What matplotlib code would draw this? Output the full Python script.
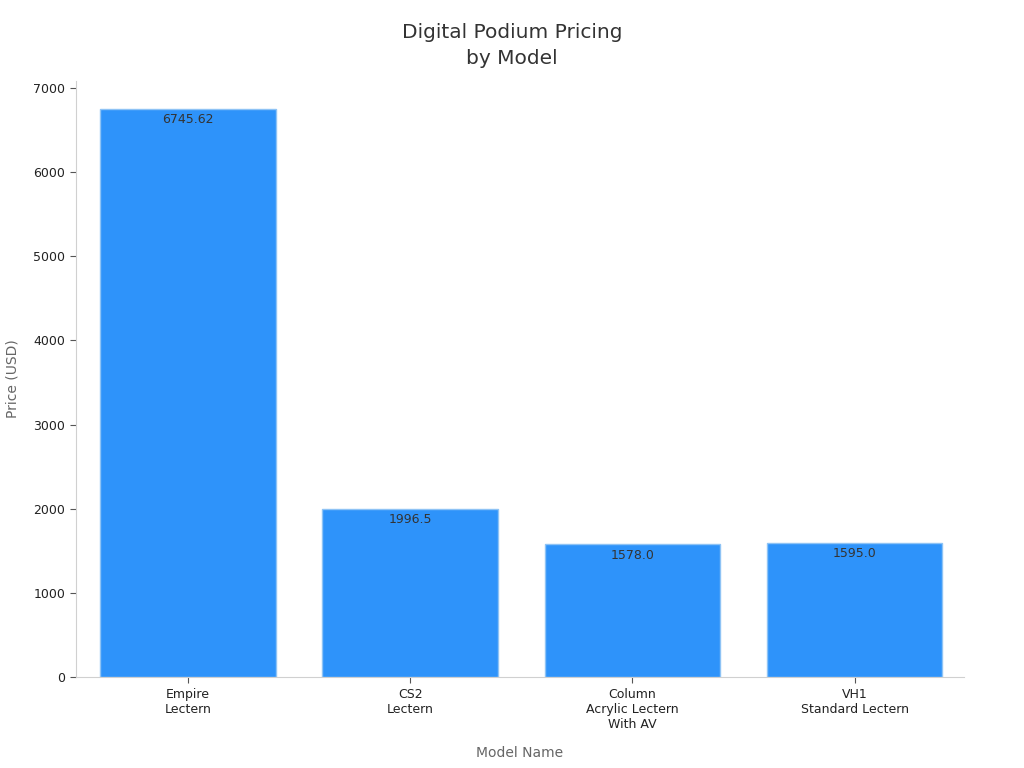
import numpy as np
import matplotlib
matplotlib.use('Agg')
import matplotlib.pyplot as plt

# chart data
models = ['Empire\nLectern', 'CS2\nLectern', 'Column\nAcrylic Lectern\nWith AV', 'VH1\nStandard Lectern']
prices = [6745.62, 1996.5, 1578.0, 1595.0]

plt.rcParams['font.family'] = ['DejaVu Sans']

fig, ax = plt.subplots(figsize=(10.24, 7.68), dpi=100)
fig.subplots_adjust(left=0.074, right=0.941, top=0.895, bottom=0.118)

x = np.arange(len(models))
bars = ax.bar(x, prices, width=0.79, color='#2E93FA', edgecolor='#8EC3F5', linewidth=1)

# value labels just inside the top of each bar
for b, v in zip(bars, prices):
    ax.annotate(str(v), (b.get_x() + b.get_width() / 2, v),
                xytext=(0, -3), textcoords='offset points',
                ha='center', va='top', fontsize=9, color='#333333')

ax.set_xlim(-0.505, 3.49)
ax.set_ylim(0, max(prices) * 1.05)
ax.set_xticks(x)
ax.set_xticklabels(models, fontsize=9, color='#222222')
ax.set_yticks(np.arange(0, 7001, 1000))
ax.tick_params(axis='y', labelsize=9, colors='#222222')
ax.tick_params(axis='both', color='#555555', length=4)

for s in ['top', 'right']:
    ax.spines[s].set_visible(False)
for s in ['left', 'bottom']:
    ax.spines[s].set_color('#d0d0d0')

ax.set_xlabel('Model Name', fontsize=10, color='#666666', labelpad=11)
ax.set_ylabel('Price (USD)', fontsize=10, color='#666666', labelpad=10)
fig.suptitle('Digital Podium Pricing\nby Model', fontsize=14.5, color='#333333',
             x=0.5, y=0.97, va='top', linespacing=1.45)

plt.savefig('out.png', dpi=100)
